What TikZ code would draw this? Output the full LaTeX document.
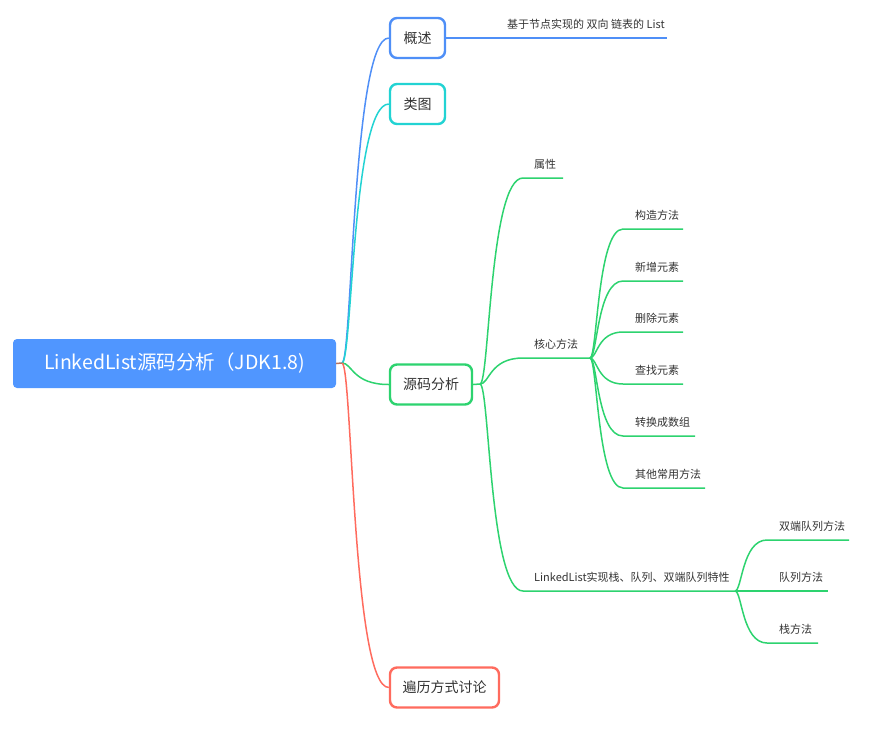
\documentclass[tikz,border=0pt]{standalone}
\usepackage{fontspec}
\setmainfont{Noto Sans CJK SC}
\usetikzlibrary{calc}
\definecolor{cblue}{HTML}{4F8FF7}
\definecolor{croot}{HTML}{5096FF}
\definecolor{cteal}{HTML}{22D3D3}
\definecolor{cgreen}{HTML}{2DD36F}
\definecolor{cred}{HTML}{FF6B5E}
\definecolor{cstub}{HTML}{B8735E}
\definecolor{ctext}{HTML}{333333}
\begin{document}
\begin{tikzpicture}[x=1pt,y=-1pt,
  rootbox/.style={fill=croot,rounded corners=4pt,inner sep=0pt,text=white,
    minimum width=323pt,minimum height=49pt,font=\fontsize{19.5}{23}\selectfont},
  topic/.style={draw,line width=2.4pt,rounded corners=7pt,fill=white,inner sep=0pt,
    text=ctext,minimum height=40pt,font=\fontsize{14}{16}\selectfont},
  leaf/.style={anchor=base west,inner sep=0pt,text=ctext,font=\fontsize{11}{13}\selectfont},
  conn/.style={line width=1.5pt},
  mm/.style={to path={let \p1=(\tikztostart), \p2=(\tikztotarget) in
    .. controls ({\x1+0.22*(\x2-\x1)},\y1) and ({\x1+0.22*(\x2-\x1)},\y2) .. (\tikztotarget)}}]
\useasboundingbox (0,0) rectangle (876,732);
% root
\node[rootbox] (root) at (174.5,363.5) {LinkedList源码分析（JDK1.8)};
\coordinate (r0) at (342,363);
% main topics
\node[topic,draw=cblue,minimum width=55pt] (gs) at (417.5,38) {概述};
\node[topic,draw=cteal,minimum width=55pt] (lt) at (417.5,104) {类图};
\node[topic,draw=cgreen,minimum width=82pt] (ym) at (431,384.5) {源码分析};
\node[topic,draw=cred,minimum width=109pt] (bl) at (444.5,687.5) {遍历方式讨论};
\draw[conn,cstub] (root.east) -- (r0);
\draw[conn,cblue] (r0) to[mm] (gs.west);
\draw[conn,cteal] (r0) to[mm] (lt.west);
\draw[conn,cgreen] (r0) to[mm] (ym.west);
\draw[conn,cred] (r0) to[mm] (bl.west);
% overview
\coordinate (e0) at (667,38);
\node[leaf] (t0) at (507,28.5) {基于节点实现的 双向 链表的 List};
\draw[conn,cblue] (gs.east) -- (e0);
% source analysis
\coordinate (b1) at (480,384);
\draw[conn,cgreen] (ym.east) -- (b1);
\coordinate (s11) at (523,178); \coordinate (e11) at (563,178);
\node[leaf] (t11) at (534,168.5) {属性};
\coordinate (s12) at (523,358); \coordinate (b2) at (590,358);
\node[leaf] (t12) at (534,348.5) {核心方法};
\coordinate (s13) at (523,591); \coordinate (b3) at (735,591);
\node[leaf] (t13) at (534,581.5) {LinkedList实现栈、队列、双端队列特性};
\draw[conn,cgreen] (b1) to[mm] (s11) -- (e11);
\draw[conn,cgreen] (b1) to[mm] (s12) -- (b2);
\draw[conn,cgreen] (b1) to[mm] (s13) -- (b3);
% core methods
\foreach \i/\yy/\xe/\txt in {1/229/683/构造方法,2/281/683/新增元素,3/332/683/删除元素,
    4/384/683/查找元素,5/436/695/转换成数组,6/488/705/其他常用方法}{
  \coordinate (s2\i) at (623,\yy); \coordinate (e2\i) at (\xe,\yy);
  \node[leaf] (t2\i) at (635,\yy-9.5) {\txt};
  \draw[conn,cgreen] (b2) to[mm] (s2\i) -- (e2\i);
}
% stack/queue
\foreach \i/\yy/\xe/\txt in {1/540/849/双端队列方法,2/591/828/队列方法,3/643/818/栈方法}{
  \coordinate (s3\i) at (767,\yy); \coordinate (e3\i) at (\xe,\yy);
  \node[leaf] (t3\i) at (779,\yy-9.5) {\txt};
  \draw[conn,cgreen] (b3) to[mm] (s3\i) -- (e3\i);
}
\end{tikzpicture}
\end{document}
